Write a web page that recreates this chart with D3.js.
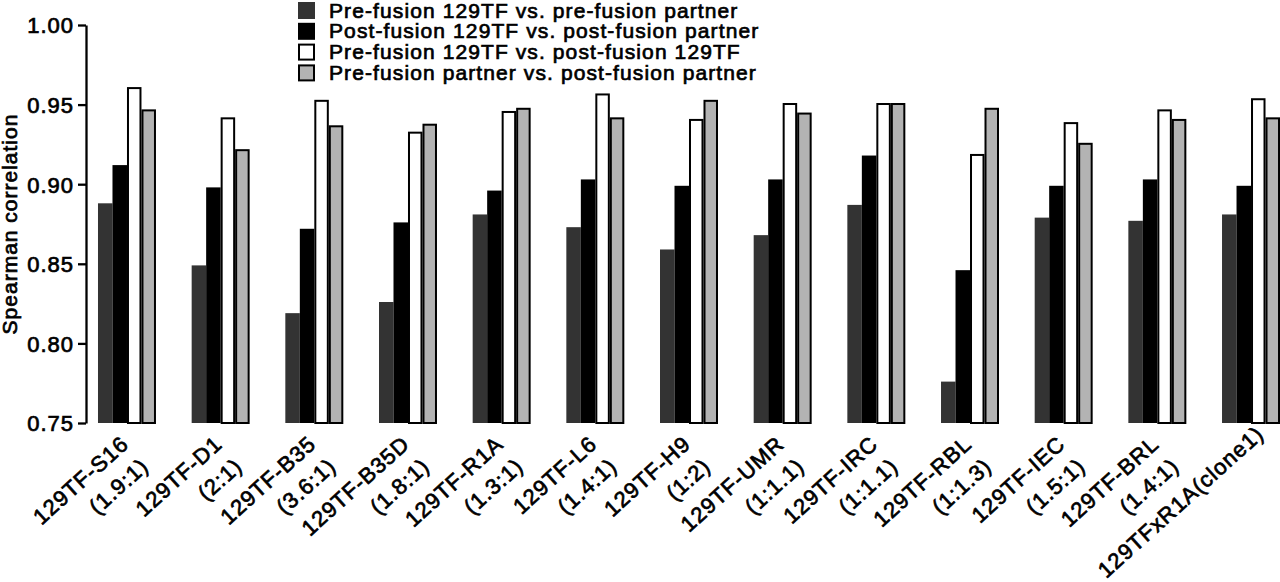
<!DOCTYPE html>
<html>
<head>
<meta charset="utf-8">
<script src="https://cdn.jsdelivr.net/npm/d3@7"></script>
<style>
  body { margin: 0; background: #fff; }
  svg { display: block; font-family: "Liberation Sans", Arial, sans-serif; }
  svg text { fill: #000; stroke: #000; stroke-width: 0.7px; letter-spacing: 1px; }
  .axis path, .axis line { stroke: #000; stroke-width: 2.3px; }
  .axis text { font-size: 22px; }
</style>
</head>
<body>
<svg id="chart" width="1280" height="582"></svg>
<script>
var lines = ["129TF-S16", "129TF-D1", "129TF-B35", "129TF-B35D", "129TF-R1A", "129TF-L6", "129TF-H9",
             "129TF-UMR", "129TF-IRC", "129TF-RBL", "129TF-IEC", "129TF-BRL", "129TFxR1A(clone1)"];
var ratios = ["(1.9:1)", "(2:1)", "(3.6:1)", "(1.8:1)", "(1.3:1)", "(1.4:1)", "(1:2)",
              "(1:1.1)", "(1:1.1)", "(1:1.3)", "(1.5:1)", "(1.4:1)", ""];

var seriesNames = ["Pre-fusion 129TF vs. pre-fusion partner",
                   "Post-fusion 129TF vs. post-fusion partner",
                   "Pre-fusion 129TF vs. post-fusion 129TF",
                   "Pre-fusion partner vs. post-fusion partner"];

var preVsPre       = [0.888, 0.849, 0.819, 0.826, 0.881, 0.873, 0.859, 0.868, 0.887, 0.776, 0.879, 0.877, 0.881];
var postVsPost     = [0.912, 0.898, 0.872, 0.876, 0.896, 0.903, 0.899, 0.903, 0.918, 0.846, 0.899, 0.903, 0.899];
var tfPreVsPost    = [0.961, 0.942, 0.953, 0.933, 0.946, 0.957, 0.941, 0.951, 0.951, 0.919, 0.939, 0.947, 0.954];
var partPreVsPost  = [0.947, 0.922, 0.937, 0.938, 0.948, 0.942, 0.953, 0.945, 0.951, 0.948, 0.926, 0.941, 0.942];

var yTicks = [0.75, 0.80, 0.85, 0.90, 0.95, 1.00];

var fills = ["#333333", "#000000", "#ffffff", "#b3b3b3"];
var outlined = [false, false, true, true];

var allSeries = [preVsPre, postVsPost, tfPreVsPost, partPreVsPost];

var svg = d3.select("#chart");

var x0 = d3.scaleBand()
    .domain(lines)
    .range([86, 1292])
    .paddingInner(0.381)
    .paddingOuter(0.128);

var x1 = d3.scaleBand()
    .domain(d3.range(seriesNames.length))
    .range([0, x0.bandwidth()]);

var y = d3.scaleLinear()
    .domain([0.75, 1.0])
    .range([423, 25]);

function drawBars() {
  var groups = svg.selectAll(".group")
      .data(lines)
      .enter().append("g")
      .attr("class", "group")
      .attr("transform", function(d) { return "translate(" + x0(d) + ",0)"; });

  groups.selectAll("rect")
      .data(function(d, i) {
        return allSeries.map(function(s, k) { return {k: k, value: s[i]}; });
      })
      .enter().append("rect")
      .attr("x", function(d) { return x1(d.k) + (outlined[d.k] ? 1 : 0); })
      .attr("width", function(d) { return x1.bandwidth() - (outlined[d.k] ? 2 : 0); })
      .attr("y", function(d) { return y(d.value) + (outlined[d.k] ? 1 : 0); })
      .attr("height", function(d) { return y(0.75) - y(d.value) - (outlined[d.k] ? 1 : 0); })
      .attr("fill", function(d) { return fills[d.k]; })
      .attr("stroke", function(d) { return outlined[d.k] ? "#000" : "none"; })
      .attr("stroke-width", 2);
}

function drawYAxis() {
  var g = svg.append("g")
      .attr("class", "y axis")
      .attr("transform", "translate(86,0)")
      .call(d3.axisLeft(y).tickValues(yTicks).tickFormat(d3.format(".2f")).tickSize(8).tickSizeOuter(0).tickPadding(4));

  g.selectAll("text").attr("dy", "0.36em").attr("fill", "#000");

  svg.append("text")
      .attr("transform", "translate(17," + y(0.875) + ") rotate(-90)")
      .style("text-anchor", "middle")
      .style("font-size", "21px")
      .text("Spearman correlation");
}

function drawXLabels() {
  var labels = svg.selectAll(".xlabel")
      .data(lines)
      .enter().append("text")
      .attr("class", "xlabel")
      .attr("transform", function(d) {
        return "translate(" + (x0(d) + x0.bandwidth() / 2 + 3) + ",446) rotate(-42)";
      })
      .style("text-anchor", "end")
      .style("font-size", "22px");

  labels.append("tspan")
      .attr("x", 0)
      .attr("dx", function(d, i) { return ratios[i] ? 0 : 15; })
      .text(function(d) { return d; });

  labels.append("tspan")
      .attr("x", 0)
      .attr("dy", "1.36em")
      .text(function(d, i) { return ratios[i]; });
}

function drawLegend() {
  var legend = svg.selectAll(".legend")
      .data(seriesNames)
      .enter().append("g")
      .attr("class", "legend")
      .attr("transform", function(d, i) { return "translate(298," + (10 + i * 20.8) + ")"; });

  legend.append("rect")
      .attr("x", function(d, i) { return outlined[i] ? 1 : 0; })
      .attr("y", function(d, i) { return -8 + (outlined[i] ? 1 : 0); })
      .attr("width", function(d, i) { return outlined[i] ? 15 : 17; })
      .attr("height", function(d, i) { return outlined[i] ? 15 : 17; })
      .attr("fill", function(d, i) { return fills[i]; })
      .attr("stroke", function(d, i) { return outlined[i] ? "#000" : "none"; })
      .attr("stroke-width", 2);

  legend.append("text")
      .attr("x", 31)
      .attr("y", 7.5)
      .style("font-size", "21px")
      .style("letter-spacing", "1.1px")
      .text(function(d) { return d; });
}

drawBars();
drawYAxis();
drawXLabels();
drawLegend();
</script>
</body>
</html>
